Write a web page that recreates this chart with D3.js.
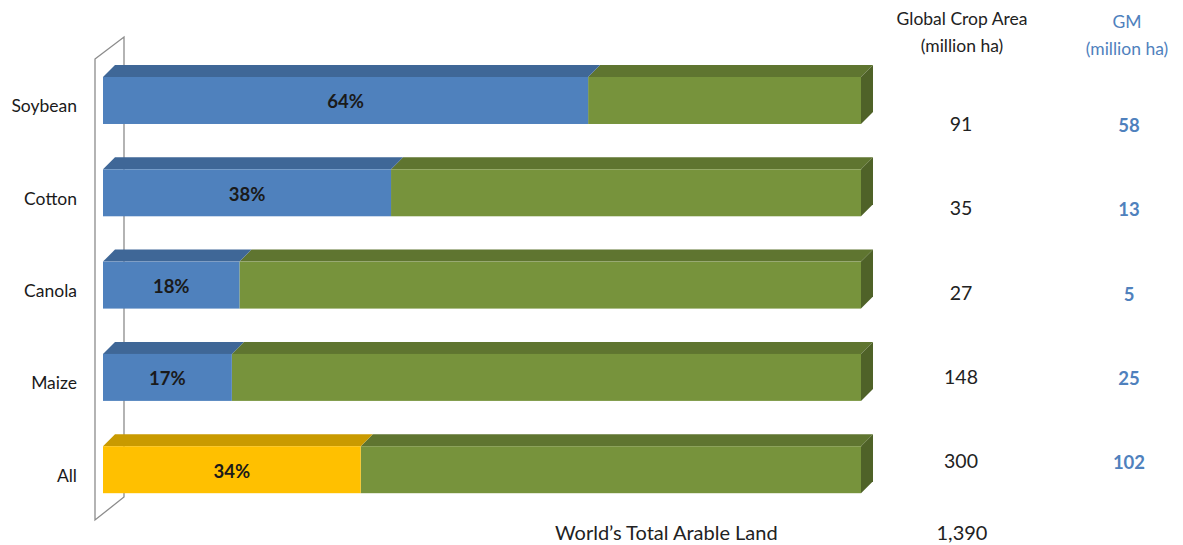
<!DOCTYPE html>
<html><head><meta charset="utf-8">
<script src="https://cdn.jsdelivr.net/npm/d3@7"></script>
<style>body{margin:0;background:#fff}svg{display:block;font-family:Lato,"Open Sans",sans-serif}</style>
</head><body><svg id="c" width="1183" height="545"></svg>
<script>
const categories = ["Soybean","Cotton","Canola","Maize","All"];
const gmShare = [64,38,18,17,34];
const cropArea = ["91","35","27","148","300"];
const gmArea = ["58","13","5","25","102"];
const totalLabel = "World\u2019s Total Arable Land";
const totalValue = "1,390";

const svg = d3.select("#c");
const depth = 12;
const x = d3.scaleLinear().domain([0,100]).range([103,861]);
const y = d3.scaleBand().domain(categories).range([77,493.2]).paddingInner(0.491).paddingOuter(0);
const rowY = d3.scalePoint().domain(categories).range([123,460]);

// back wall
svg.append("path")
  .attr("d",`M95,59 L124,37 L124,497 L95,520 Z`)
  .attr("fill","#fff").attr("stroke","#8c8c8c").attr("stroke-width",1.3);

const col = {
  blue:{front:"#4f81bd",top:"#3f6797"},
  yellow:{front:"#ffc000",top:"#c99a00"},
  green:{front:"#77933c",top:"#5f7530",side:"#4f6228"}
};

function box(g, x0, x1, y0, h, c, side){
  g.append("path").attr("d",`M${x0},${y0} L${x0+depth},${y0-depth} L${x1+depth},${y0-depth} L${x1},${y0} Z`).attr("fill",c.top);
  if(side) g.append("path").attr("d",`M${x1},${y0} L${x1+depth},${y0-depth} L${x1+depth},${y0+h-depth} L${x1},${y0+h} Z`).attr("fill",c.side);
  g.append("rect").attr("x",x0).attr("y",y0).attr("width",x1-x0).attr("height",h).attr("fill",c.front);
}

categories.forEach((cat,i)=>{
  const g = svg.append("g");
  const y0 = y(cat), h = y.bandwidth();
  const c1 = cat==="All" ? col.yellow : col.blue;
  box(g, x(gmShare[i]), x(100), y0, h, col.green, true);
  box(g, x(0), x(gmShare[i]), y0, h, c1, false);
  g.append("text").attr("x",(x(0)+x(gmShare[i]))/2).attr("y",y0+h/2+8)
    .attr("text-anchor","middle").attr("font-size",18.5).attr("font-weight","bold").attr("fill","#1a1a1a")
    .text(gmShare[i]+"%");
  svg.append("text").attr("x",77).attr("y",y0+h/2+12).attr("text-anchor","end")
    .attr("font-size",17.5).attr("fill","#1a1a1a").text(cat);
  svg.append("text").attr("x",961).attr("y",rowY(cat)+8).attr("text-anchor","middle")
    .attr("font-size",19.5).attr("fill","#222").text(cropArea[i]);
  svg.append("text").attr("x",1129).attr("y",rowY(cat)+9).attr("text-anchor","middle")
    .attr("font-size",18.5).attr("font-weight","bold").attr("fill","#4f81bd").text(gmArea[i]);
});

// headers
svg.append("text").attr("x",962).attr("y",25).attr("text-anchor","middle").attr("font-size",17.5).attr("fill","#222").text("Global Crop Area");
svg.append("text").attr("x",962).attr("y",52).attr("text-anchor","middle").attr("font-size",17.5).attr("fill","#222").text("(million ha)");
svg.append("text").attr("x",1127).attr("y",28).attr("text-anchor","middle").attr("font-size",17.5).attr("fill","#4f81bd").text("GM");
svg.append("text").attr("x",1127).attr("y",55).attr("text-anchor","middle").attr("font-size",17.5).attr("fill","#4f81bd").text("(million ha)");

svg.append("text").attr("x",555).attr("y",540).attr("font-size",20).attr("fill","#222").text(totalLabel);
svg.append("text").attr("x",962).attr("y",540).attr("text-anchor","middle").attr("font-size",20).attr("fill","#222").text(totalValue);
</script></body></html>
